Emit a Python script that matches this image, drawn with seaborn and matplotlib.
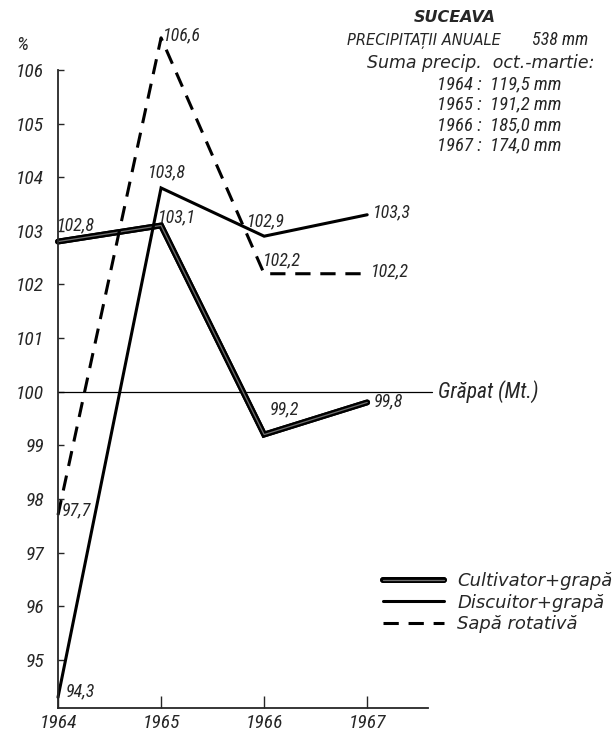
import matplotlib
matplotlib.use("Agg")
import matplotlib.pyplot as plt
import matplotlib.patheffects as pe
from matplotlib import font_manager as fm
import seaborn as sns
import pandas as pd

# ---- data ----
years = [1964, 1965, 1966, 1967]
cultivator = [102.8, 103.1, 99.2, 99.8]
discuitor = [94.3, 103.8, 102.9, 103.3]
sapa = [97.7, 106.6, 102.2, 102.2]
series_names = ["Cultivator+grapă", "Discuitor+grapă", "Sapă rotativă"]
y_ticks = [95, 96, 97, 98, 99, 100, 101, 102, 103, 104, 105, 106]
reference_value = 100
reference_label = "Grăpat (Mt.)"
precip_years = ["1964", "1965", "1966", "1967"]
precip_values = ["119,5", "191,2", "185,0", "174,0"]

def fmt(v):
    return f"{v:.1f}".replace(".", ",")

sns.set_style("ticks")
names = {f.name for f in fm.fontManager.ttflist}
fam = "DejaVu Sans"
for cand in ["Roboto Condensed", "Liberation Sans Narrow", "Open Sans Condensed"]:
    if cand in names:
        fam = cand
        break
plt.rcParams["font.family"] = [fam, "DejaVu Sans"]
plt.rcParams["font.style"] = "italic"
WIDE = ["DejaVu Sans"]

fig = plt.figure(figsize=(6.12, 7.36), dpi=100)
W, H = 612, 736
ax = fig.add_axes([58 / W, 1 - 708 / H, 370 / W, 638 / H])

df = pd.DataFrame({
    "an": years * 3,
    "val": cultivator + discuitor + sapa,
    "serie": [series_names[0]] * 4 + [series_names[1]] * 4 + [series_names[2]] * 4,
})

styles = {
    series_names[0]: dict(lw=4.2, ls="-",
                          path_effects=[pe.Stroke(linewidth=4.2, foreground="black"),
                                        pe.Normal(),
                                        pe.Stroke(linewidth=0.9, foreground="#707070")]),
    series_names[1]: dict(lw=2.2, ls="-"),
    series_names[2]: dict(lw=2.2, ls=(0, (5, 3.2))),
}

for name in series_names:
    sub = df[df["serie"] == name]
    st = styles[name]
    kw = dict(color="black", linewidth=st["lw"], linestyle=st["ls"], clip_on=False,
              solid_joinstyle="miter")
    if "path_effects" in st:
        kw["path_effects"] = st["path_effects"]
    sns.lineplot(data=sub, x="an", y="val", ax=ax, label=name, **kw)

# reference line
ax.axhline(reference_value, xmin=0, xmax=(432 - 58) / 370, color="black", lw=0.9,
           clip_on=False, zorder=1)
ax.annotate(reference_label, xy=(1.0, reference_value), xycoords=("axes fraction", "data"),
            xytext=(7, 0), textcoords="offset points", fontsize=15.5, va="center", ha="left",
            annotation_clip=False)

# value labels
offsets = {
    series_names[0]: [(13, 11.5), (11.5, 6), (14.4, 18), (15, 1)],
    series_names[1]: [(16, 4), (4, 11.5), (1.5, 11), (18, 2)],
    series_names[2]: [(13, 3.5), (15, 2), (13, 9.5), (16.5, 1.5)],
}
for name, vals in zip(series_names, [cultivator, discuitor, sapa]):
    for x, v, off in zip(years, vals, offsets[name]):
        ax.annotate(fmt(v), xy=(x, v), xytext=off, textcoords="offset points",
                    ha="center", va="center", fontsize=13, annotation_clip=False)

ax.set_xlim(1964, 1967.59)
ax.set_ylim(94.1, 106)
ax.set_xticks(years)
ax.set_xticklabels([str(y) for y in years], fontsize=14)
ax.set_yticks(y_ticks)
ax.set_yticklabels([str(t) for t in y_ticks], fontsize=14)
ax.tick_params(axis="y", direction="in", length=4.5, width=1, pad=10)
ax.tick_params(axis="x", direction="in", length=9, width=1, pad=4)
ax.set_xlabel("")
ax.set_ylabel("")
for s in ["top", "right"]:
    ax.spines[s].set_visible(False)
ax.spines["left"].set_linewidth(1.3)
ax.spines["bottom"].set_linewidth(1.3)

fig.text(22 / W, 1 - 45 / H, "%", fontsize=14, ha="center", va="center")

# legend
leg = ax.legend(loc="upper left", bbox_to_anchor=(383 / W, 1 - 572 / H),
                bbox_transform=fig.transFigure, frameon=False,
                prop=dict(family=WIDE, style="italic", size=13),
                handlelength=3.4, handletextpad=0.7, labelspacing=0.2,
                borderpad=0, borderaxespad=0)

# header texts
fig.text(455 / W, 1 - 18 / H, "SUCEAVA", family=WIDE, fontsize=11.5, fontweight="bold",
         ha="center", va="center")
fig.text(347 / W, 1 - 41 / H, "PRECIPITAȚII ANUALE", family=WIDE, fontsize=10.5,
         ha="left", va="center")
fig.text(532 / W, 1 - 40 / H, "538 mm", fontsize=13, ha="left", va="center")
fig.text(367 / W, 1 - 63 / H, "Suma precip.  oct.-martie:", family=WIDE, fontsize=12.5,
         ha="left", va="center")
for i, (yr, pv) in enumerate(zip(precip_years, precip_values)):
    fig.text(437 / W, 1 - (84 + 20.5 * i) / H, f"{yr} :  {pv} mm", fontsize=13.5,
             ha="left", va="center")

fig.savefig("out.png", dpi=100)
